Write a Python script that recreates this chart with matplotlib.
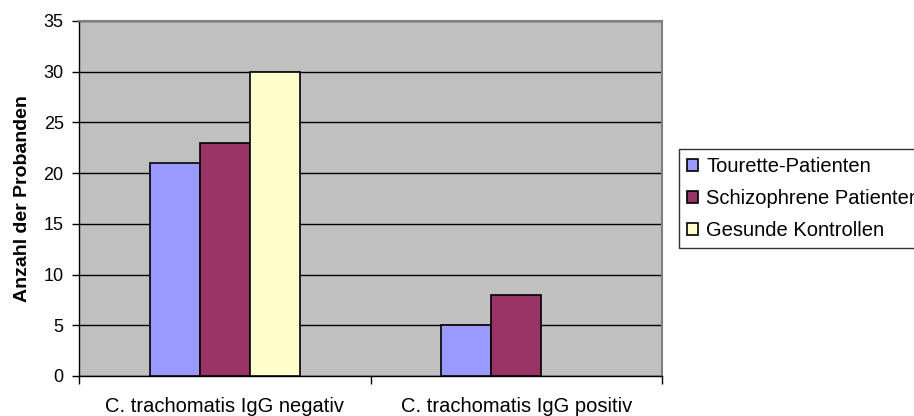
import numpy as np
import matplotlib.pyplot as plt

plt.rcParams['font.family'] = ['Liberation Sans', 'DejaVu Sans']

# data
categories = ['C. trachomatis IgG negativ', 'C. trachomatis IgG positiv']
series_names = ['Tourette-Patienten', 'Schizophrene Patienten', 'Gesunde Kontrollen']
tourette = [21, 5]
schizo = [23, 8]
gesund = [30, 0]
colors = ['#9999FF', '#993366', '#FFFFCC']

fig = plt.figure(figsize=(9.14, 4.16), dpi=100)
ax = fig.add_axes([0.0864, 0.0962, 0.638, 0.8538])
ax.set_facecolor('#C0C0C0')

x = np.arange(len(categories))
w = 0.172
for i, (vals, name, col) in enumerate(zip([tourette, schizo, gesund], series_names, colors)):
    # Excel draws nothing for a zero-height bar
    lw = [1.2 if v > 0 else 0 for v in vals]
    ax.bar(x + (i - 1) * w, vals, width=w, color=col, edgecolor='black',
           linewidth=lw, label=name, zorder=3)

ax.set_xlim(-0.5, 1.5)
ax.set_ylim(0, 35)
ax.set_yticks(range(0, 36, 5))
ax.yaxis.grid(True, color='black', linewidth=1.0, zorder=1)
ax.set_axisbelow(True)

# category boundary ticks, labels centred between them
ax.set_xticks([-0.5, 0.5, 1.5])
ax.set_xticklabels([])
ax.set_xticks(x, minor=True)
ax.set_xticklabels(categories, minor=True, fontsize=14.5)
ax.tick_params(axis='x', which='major', direction='out', length=6, width=1)
ax.tick_params(axis='x', which='minor', length=0, pad=15)
ax.tick_params(axis='y', direction='out', length=5, width=1, labelsize=13, pad=6)

for s in ['top', 'right']:
    ax.spines[s].set_color('#808080')
    ax.spines[s].set_linewidth(1.5)
ax.spines['left'].set_linewidth(1.0)
ax.spines['bottom'].set_linewidth(1.0)

ax.set_ylabel('Anzahl der Probanden', fontsize=14, fontweight='bold', labelpad=9)

leg = fig.legend(loc='upper left', bbox_to_anchor=(679 / 914, 1 - 149 / 416),
                 frameon=True, fancybox=False, edgecolor='black', fontsize=14.5,
                 handlelength=0.55, handleheight=0.55, handletextpad=0.4,
                 labelspacing=0.65, borderpad=0.4, borderaxespad=0)
leg.get_frame().set_linewidth(1.0)

fig.savefig('out.png', dpi=100)
